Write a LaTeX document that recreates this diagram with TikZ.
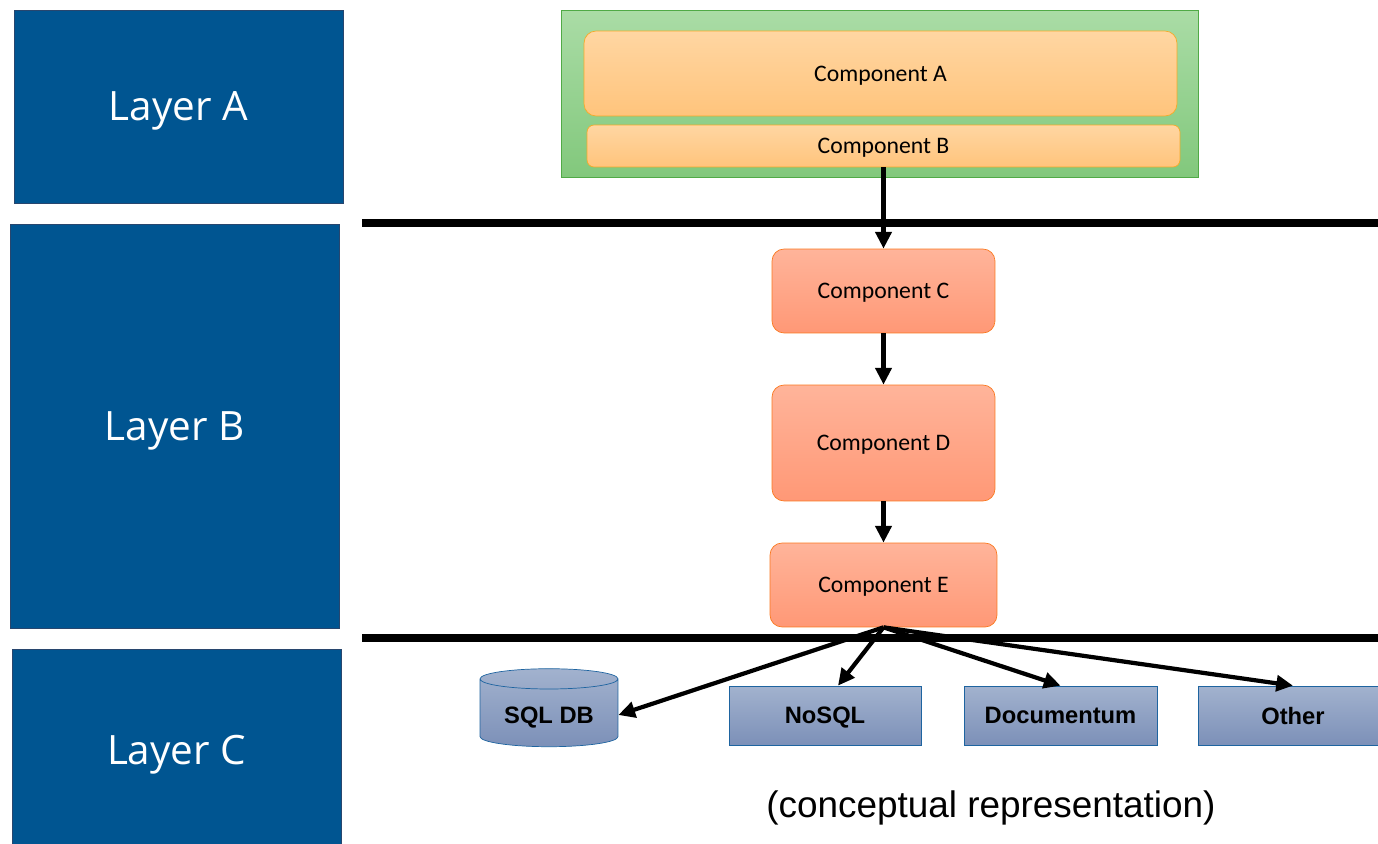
\documentclass[tikz,border=0pt]{standalone}
\usepackage{fontspec}
\usepackage{tikz}
\usetikzlibrary{arrows.meta,shapes.geometric}
\newfontfamily\layerfont{Open Sans}
\newfontfamily\compfont{Carlito}
\newfontfamily\arialfont{Liberation Sans}
\definecolor{layerblue}{RGB}{0,85,145}
\definecolor{layeredge}{RGB}{40,70,110}
\definecolor{greentop}{RGB}{170,220,166}
\definecolor{greenbot}{RGB}{130,200,124}
\definecolor{greenedge}{RGB}{80,170,70}
\definecolor{peachtop}{RGB}{255,214,162}
\definecolor{peachbot}{RGB}{255,196,124}
\definecolor{peachedge}{RGB}{245,170,40}
\definecolor{salmontop}{RGB}{255,180,154}
\definecolor{salmonbot}{RGB}{255,152,118}
\definecolor{salmonedge}{RGB}{250,120,30}
\definecolor{storetop}{RGB}{162,178,206}
\definecolor{storebot}{RGB}{124,144,184}
\definecolor{storeedge}{RGB}{30,100,160}
\tikzset{
  layer/.style={draw=layeredge,fill=layerblue,text=white,minimum width=6.58cm,text depth=0pt,
    font=\layerfont\fontsize{23}{27}\selectfont},
  peach/.style={draw=peachedge,top color=peachtop,bottom color=peachbot,rounded corners=0.24cm,
    minimum width=11.86cm,text depth=0pt,font=\compfont\fontsize{13.5}{16}\selectfont},
  salmon/.style={draw=salmonedge,top color=salmontop,bottom color=salmonbot,rounded corners=0.24cm,
    minimum width=4.46cm,text depth=0pt,font=\compfont\fontsize{13.5}{16}\selectfont},
  store/.style={draw=storeedge,top color=storetop,bottom color=storebot,minimum height=1.18cm,
    text depth=0pt,font=\arialfont\bfseries\fontsize{13.5}{16}\selectfont},
  flow/.style={line width=2.4pt,-{Triangle[length=9.5pt,width=9pt]}},
  divider/.style={line width=5pt}
}
\begin{document}
\begin{tikzpicture}[x=0.02cm,y=-0.02cm]
  \useasboundingbox (0,0) rectangle (1378,844);
  \node[layer,minimum height=3.86cm] (layA) at (178.5,106.5) {Layer A};
  \node[layer,minimum height=8.08cm] (layB) at (174.5,426) {Layer B};
  \node[layer,minimum height=4.04cm] (layC) at (176.5,750) {Layer C};

  \node[draw=greenedge,top color=greentop,bottom color=greenbot,minimum width=12.74cm,minimum height=3.34cm] (ui) at (879.5,93.5) {};
  \node[peach,minimum height=1.7cm] (compA) at (880.5,73.5) {Component A};
  \node[peach,minimum height=0.84cm,rounded corners=0.14cm] (compB) at (883.5,146) {Component B};

  \draw[divider] (362,223)--(1378,223);
  \draw[divider] (362,638)--(1378,638);

  \node[salmon,minimum height=1.68cm] (compC) at (883.5,291) {Component C};
  \node[salmon,minimum height=2.32cm] (compD) at (883.5,443) {Component D};
  \node[salmon,minimum height=1.68cm,minimum width=4.54cm] (compE) at (883.5,585) {Component E};

  \node[store,cylinder,shape border rotate=90,aspect=0.2,minimum width=2.76cm,minimum height=1.56cm] (sqldb) at (549,715) {SQL DB};
  \node[store,minimum width=3.84cm] (nosql) at (825,715.5) {NoSQL};
  \node[store,minimum width=3.86cm] (docum) at (1060.5,715.5) {Documentum};
  \node[store,minimum width=3.8cm] (other) at (1293,715.5) {Other};

  \draw[flow] (compB.south)--(compC.north);
  \draw[flow] (compC.south)--(compD.north);
  \draw[flow] (compD.south)--(compE.north);
  \draw[flow] (compE.south)--(sqldb.east);
  \draw[flow] (compE.south)--([xshift=0.26cm]nosql.north);
  \draw[flow] (compE.south)--(docum.north);
  \draw[flow] (compE.south)--(other.north);

  \node[font=\arialfont\fontsize{21}{25}\selectfont] (note) at (991,808) {(conceptual representation)};
\end{tikzpicture}
\end{document}
